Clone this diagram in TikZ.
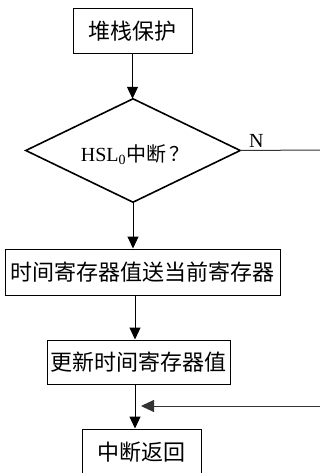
\documentclass[tikz,border=0pt]{standalone}
\usepackage{fontspec}
\setmainfont{Noto Sans CJK SC}
\newfontfamily\cjk{Noto Sans CJK SC}
\newfontfamily\serifl{Liberation Serif}
\usetikzlibrary{arrows.meta,shapes.geometric}
\tikzset{
  procbox/.style={draw=black, line width=1pt, minimum height=45pt, inner sep=0pt, font=\cjk\fontsize{22}{22}\selectfont},
  flow/.style={line width=1pt, -{Triangle[length=12pt,width=11pt]}},
  plainline/.style={line width=1pt, draw=black!80}
}
\begin{document}
\begin{tikzpicture}[x=1pt,y=-1pt]
\useasboundingbox (0,0) rectangle (320,473);
\clip (0,0) rectangle (320,473);
\node[procbox, minimum width=119pt, minimum height=45pt] (b1) at (132.5,31.5) {堆栈保护};
\node[draw=none, minimum width=214pt, minimum height=103pt] (dbox) at (133,150.5) {};
\draw[line width=1.6pt, line join=miter] (dbox.north) -- (dbox.east) -- (dbox.south) -- (dbox.west) -- cycle;
\node (dtext) at (135,155) {\serifl\fontsize{20}{20}\selectfont HSL\textsubscript{0}\cjk 中断\hspace{3pt}？};
\node[procbox, minimum width=275pt, minimum height=46pt] (b2) at (142.5,272) {时间寄存器值送当前寄存器};
\node[procbox, minimum width=183pt, minimum height=44pt] (b3) at (138.5,362) {更新时间寄存器值};
\node[procbox, minimum width=119pt, minimum height=47pt] (b4) at (141.5,452.5) {中断返回};
\node[anchor=base west, inner sep=0pt] (nlab) at (249,147) {\serifl\fontsize{20}{20}\selectfont N};
\coordinate (nend) at (321,150);
\coordinate (fbstart) at (321,406);
\coordinate (fbtip) at (141,406);
\coordinate (x1) at (132.5,0);
\coordinate (x2) at (133,0);
\coordinate (x3) at (135,0);
\draw[flow] (b1.south -| x1) -- (dbox.north -| x1);
\draw[flow] (dbox.south -| x2) -- (b2.north -| x2);
\draw[flow] (b2.south -| x3) -- (b3.north -| x3);
\draw[flow] (b3.south -| x3) -- (b4.north -| x3);
\draw[plainline] (dbox.east) -- (nend);
\draw[plainline, -{Triangle[length=13pt,width=12pt]}] (fbstart) -- (fbtip);
\end{tikzpicture}
\end{document}
